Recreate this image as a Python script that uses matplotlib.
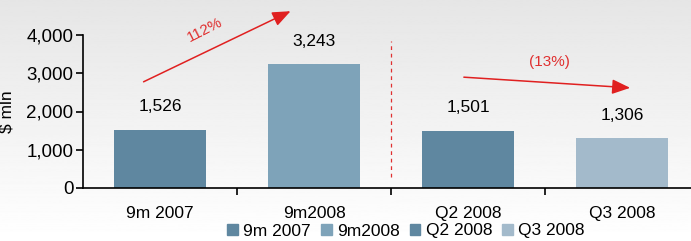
import numpy as np
import matplotlib.pyplot as plt
from matplotlib.patches import Patch

plt.rcParams['font.family'] = ['Liberation Sans', 'DejaVu Sans']

kategorie = ['9m 2007', '9m2008', 'Q2 2008', 'Q3 2008']
wartosci = [1526, 3243, 1501, 1306]
etykiety = ['1,526', '3,243', '1,501', '1,306']
kolory = ['#5f87a0', '#7ea3b9', '#5f87a0', '#a3bacb']

fig = plt.figure(figsize=(6.91, 2.41), dpi=100)

# tlo z gradientem
tlo = fig.add_axes([0, 0, 1, 1], zorder=-10)
grad = np.linspace(0.90, 1.0, 256).reshape(-1, 1)
tlo.imshow(grad, aspect='auto', cmap='gray', vmin=0, vmax=1, extent=[0, 1, 1, 0])
tlo.axis('off')

# osie: lewa krawedz x=83px, dol y=188px, gora (4000) y=35px
ax = fig.add_axes([83/691, 1 - 188/241, (691-83)/691, (188-35)/241])
ax.patch.set_alpha(0)

fs = 12.5
x = np.arange(len(kategorie))
ax.bar(x, wartosci, width=0.6, color=kolory)
for xi, v, e in zip(x, wartosci, etykiety):
    ax.text(xi, v + 600, e, ha='center', va='center', fontsize=fs)

ax.set_xlim(-0.5, 3.448)
ax.set_ylim(0, 4000)
ax.set_yticks([0, 1000, 2000, 3000, 4000])
ax.set_yticklabels(['0', '1,000', '2,000', '3,000', '4,000'], fontsize=13.5)
ax.set_xticks(x)
ax.set_xticklabels(kategorie, fontsize=fs)
ax.tick_params(axis='x', length=0, pad=13)
ax.set_xticks([0.5, 1.5, 2.5], minor=True)
ax.tick_params(axis='x', which='minor', length=5, width=1.2, direction='out')
ax.tick_params(axis='y', length=5, width=1.2, pad=2)
for s in ['top', 'right']:
    ax.spines[s].set_visible(False)
for s in ['left', 'bottom']:
    ax.spines[s].set_linewidth(1.2)
ax.set_ylabel('$ mln', fontsize=fs)
ax.yaxis.set_label_coords(-0.112, 0.5)

# strzalki
ax.annotate('', xy=(0.864, 4654), xytext=(-0.123, 2745), annotation_clip=False,
            arrowprops=dict(arrowstyle='-|>,head_length=1.1,head_width=0.45',
                            color='#e02020', lw=1.1))
ax.text(0.292, 4131, '112%', color='#e03030', fontsize=11, rotation=27,
        ha='center', va='center', clip_on=False)
ax.annotate('', xy=(3.071, 2614), xytext=(1.955, 2902), annotation_clip=False,
            arrowprops=dict(arrowstyle='-|>,head_length=1.1,head_width=0.45',
                            color='#e02020', lw=1.1))
ax.text(2.526, 3294, '(13%)', color='#e03030', fontsize=11,
        ha='center', va='center', clip_on=False)
ax.plot([1.5, 1.5], [288, 3843], color='#e03030', lw=0.9, ls=(0, (3, 3)))

uchwyty = [Patch(color=k, label=n) for k, n in zip(kolory, kategorie)]
fig.legend(handles=uchwyty, loc='center', bbox_to_anchor=(406/691, 1 - 231/241),
           ncol=4, frameon=False, fontsize=12.5, handlelength=0.6, handleheight=0.6,
           handletextpad=0.3, columnspacing=0.6, borderpad=0)

fig.savefig('out.png', dpi=100)
